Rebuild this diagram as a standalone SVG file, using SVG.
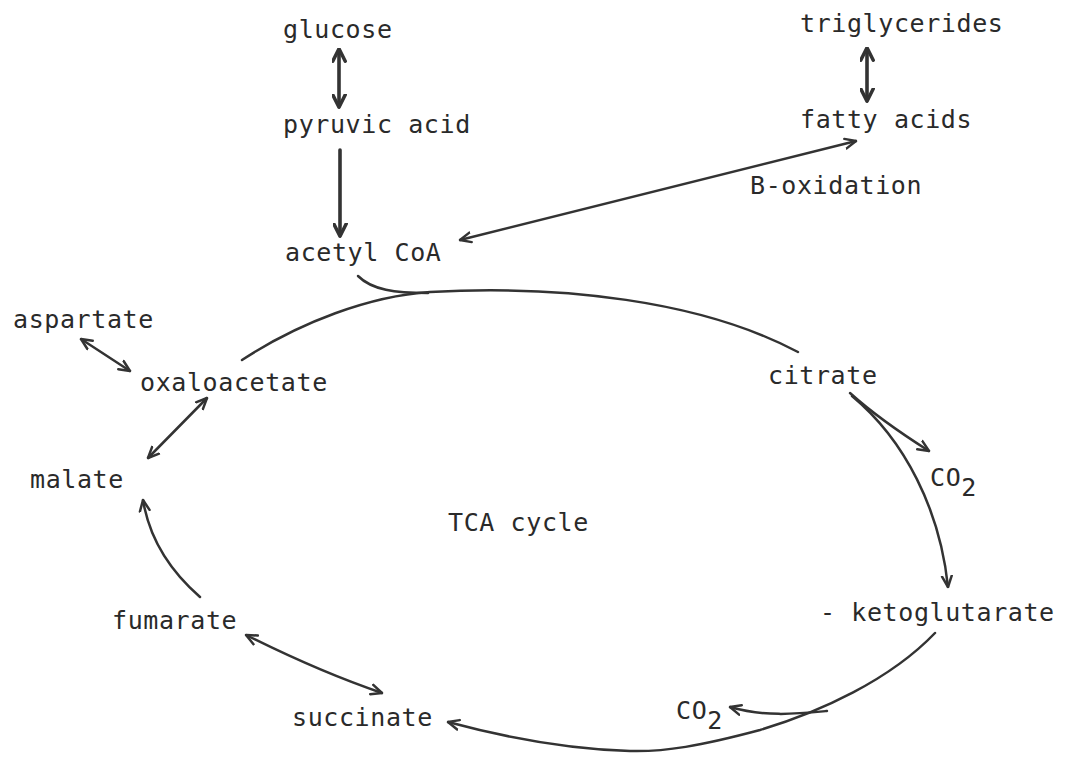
<svg xmlns="http://www.w3.org/2000/svg" width="1076" height="758" viewBox="0 0 1076 758">
<style>
text{font-family:"DejaVu Sans Mono","Liberation Mono",monospace;font-size:25px;letter-spacing:0.6px;fill:#2a2a2a}
.c{fill:none;stroke:#333;stroke-width:2.5;stroke-linecap:round}
.b{fill:none;stroke:#333;stroke-width:3.6;stroke-linecap:round}
</style>
<defs>
<marker id="v" viewBox="0 0 12 12" refX="11" refY="6" markerWidth="13" markerHeight="13" markerUnits="userSpaceOnUse" orient="auto-start-reverse">
<path d="M1,1.5 L11,6 L1,10.5" fill="none" stroke="#333" stroke-width="2.3" stroke-linejoin="round" stroke-linecap="round"/>
</marker>
<marker id="vb" viewBox="0 0 12 12" refX="10" refY="6" markerWidth="15" markerHeight="15" markerUnits="userSpaceOnUse" orient="auto-start-reverse">
<path d="M1,1 L11,6 L1,11" fill="none" stroke="#333" stroke-width="2.8" stroke-linejoin="round" stroke-linecap="round"/>
</marker>
</defs>
<rect width="1076" height="758" fill="#fff"/>
<g id="connectors">
<line class="b" x1="339" y1="50" x2="339" y2="106" marker-start="url(#vb)" marker-end="url(#vb)"/>
<line class="b" x1="340" y1="150" x2="340" y2="235" marker-end="url(#vb)"/>
<line class="b" x1="867" y1="49" x2="867" y2="100" marker-start="url(#vb)" marker-end="url(#vb)"/>
<line class="c" x1="460" y1="240" x2="856" y2="141" marker-start="url(#v)" marker-end="url(#v)"/>
<path class="c" d="M358,276 C372,290 395,293 428,293"/>
<path class="c" d="M242,360 C300,322 370,296 430,292 C560,285 700,300 798,352"/>
<line class="c" x1="81" y1="339" x2="130" y2="371" marker-start="url(#v)" marker-end="url(#v)"/>
<line class="c" x1="207" y1="398" x2="148" y2="458" marker-start="url(#v)" marker-end="url(#v)"/>
<path class="c" d="M200,597 Q152,555 143,500" marker-end="url(#v)"/>
<path class="c" d="M246,635 Q320,672 382,693" marker-start="url(#v)" marker-end="url(#v)"/>
<path class="c" d="M850,393 Q880,420 929,451" marker-end="url(#v)"/>
<path class="c" d="M852,396 C905,440 940,510 948,587" marker-end="url(#v)"/>
<path class="c" d="M935,633 C890,680 820,712 760,730 C700,746 665,752 630,751 C560,749 500,736 448,722" marker-end="url(#v)"/>
<path class="c" d="M827,711 C795,714 765,717 730,707" marker-end="url(#v)"/>
</g>
<g id="glucose"><text x="283" y="38">glucose</text></g>
<g id="pyruvic-acid"><text x="283" y="133">pyruvic acid</text></g>
<g id="acetyl-coa"><text x="285" y="261">acetyl CoA</text></g>
<g id="triglycerides"><text x="800" y="32">triglycerides</text></g>
<g id="fatty-acids"><text x="800" y="128">fatty acids</text></g>
<g id="b-oxidation"><text x="750" y="194">B-oxidation</text></g>
<g id="aspartate"><text x="13" y="328">aspartate</text></g>
<g id="oxaloacetate"><text x="140" y="391">oxaloacetate</text></g>
<g id="citrate"><text x="768" y="384">citrate</text></g>
<g id="co2-a"><text x="930" y="486">CO<tspan dy="10">2</tspan></text></g>
<g id="malate"><text x="30" y="488">malate</text></g>
<g id="tca-cycle"><text x="448" y="531">TCA cycle</text></g>
<g id="fumarate"><text x="112" y="629">fumarate</text></g>
<g id="ketoglutarate"><text x="820" y="621">- ketoglutarate</text></g>
<g id="succinate"><text x="292" y="726">succinate</text></g>
<g id="co2-b"><text x="676" y="719">CO<tspan dy="10">2</tspan></text></g>
</svg>
